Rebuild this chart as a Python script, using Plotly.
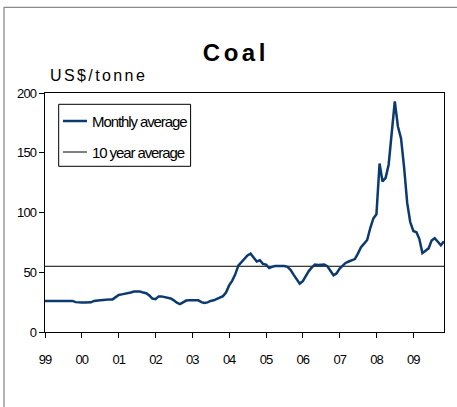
import plotly.graph_objects as go
import pandas as pd

# ---- data ----
start_month = "1999-01-01"
monthly_average = [
    26.0, 26.0, 26.0, 26.0, 26.0, 26.0, 26.0, 26.0, 26.0, 26.0, 25.0, 24.6,   # 1999
    24.6, 24.6, 24.6, 24.8, 26.0, 26.5, 26.5, 26.8, 27.3, 27.3, 27.3, 29.5,   # 2000
    31.0, 31.5, 31.8, 32.6, 33.0, 33.8, 34.0, 33.8, 33.0, 32.5, 30.5, 28.0,   # 2001
    27.5, 29.8, 29.8, 29.3, 28.8, 28.0, 26.5, 24.5, 23.3, 24.5, 26.3, 26.5,   # 2002
    26.5, 27.0, 26.5, 25.0, 24.3, 24.8, 26.0, 26.5, 27.5, 28.5, 30.0, 33.0,   # 2003
    39.0, 43.0, 48.0, 55.5, 58.5, 61.5, 64.0, 65.5, 62.5, 59.0, 60.0, 57.0,   # 2004
    56.4, 53.5, 54.5, 55.2, 55.2, 55.2, 55.2, 54.5, 52.0, 48.0, 44.5, 40.5,   # 2005
    42.5, 47.4, 51.0, 54.0, 56.5, 56.0, 56.0, 56.5, 55.0, 51.0, 47.5, 49.0,   # 2006
    53.0, 55.5, 57.8, 59.0, 60.0, 61.0, 65.6, 71.0, 74.0, 77.0, 87.0, 95.0,   # 2007
    98.5, 141.0, 126.0, 129.0, 140.0, 165.0, 193.0, 172.0, 162.0, 138.0, 108.0, 92.0,  # 2008
    84.5, 83.5, 78.0, 66.0, 68.0, 70.0, 76.5, 78.5, 75.5, 72.5, 76.0,         # 2009
]
ten_year_average = 55.0
months = pd.date_range(start_month, periods=len(monthly_average), freq="MS")
tick_years = pd.date_range("1999-01-01", "2009-01-01", freq="YS")
tick_labels = ["99", "00", "01", "02", "03", "04", "05", "06", "07", "08", "09"]
y_ticks = [0, 50, 100, 150, 200]

NAVY = "#0b3a6f"
SANS = "Liberation Sans, Arial, sans-serif"


def narrow(s, sp):
    return f'<span style="letter-spacing:{sp}px">{s}</span>'


fig = go.Figure()
fig.add_trace(go.Scatter(
    x=[months[0], months[-1]], y=[ten_year_average, ten_year_average],
    mode="lines", line=dict(color="black", width=1), name="10 year average",
    showlegend=False, hoverinfo="skip"))
fig.add_trace(go.Scatter(
    x=months, y=monthly_average, mode="lines",
    line=dict(color=NAVY, width=2.5), name="Monthly average", showlegend=False))

# custom legend (box, samples, labels) in paper coordinates
lx0, lx1, ly0, ly1 = 0.0343, 0.3649, 0.6933, 0.9527
fig.add_shape(type="rect", xref="paper", yref="paper", x0=lx0, x1=lx1, y0=ly0, y1=ly1,
              line=dict(color="black", width=1), fillcolor="white", layer="above")
legend_rows = [("Monthly average", NAVY, 2.5, 0.8828), ("10 year average", "black", 1, 0.7531)]
for label, col, w, yy in legend_rows:
    fig.add_shape(type="line", xref="paper", yref="paper", x0=0.0451, x1=0.1052, y0=yy, y1=yy,
                  line=dict(color=col, width=w), layer="above")
    fig.add_annotation(xref="paper", yref="paper", x=0.113, y=yy, text=narrow(label, -1.1),
                       showarrow=False, xanchor="left", yanchor="middle",
                       font=dict(family=SANS, size=15, color="black"))

# unit label
fig.add_annotation(xref="paper", yref="paper", x=0.008, y=1.074,
                   text=narrow("US$/tonne", 2.4),
                   showarrow=False, xanchor="left", yanchor="middle",
                   font=dict(family=SANS, size=16, color="black"))

# outer frame
fig.add_shape(type="path", xref="paper", yref="paper",
              path="M -0.1027,-0.4 L -0.1027,1.3586 L 1.06,1.3586",
              line=dict(color="#8a8a8a", width=1.3))

fig.update_layout(
    width=457, height=407,
    margin=dict(l=45, r=12.7, t=92.7, b=75.3),
    paper_bgcolor="white", plot_bgcolor="white",
    title=dict(text=narrow("<b>Coal</b>", 3.5), x=0.516, y=0.871, xref="container", yref="container",
               xanchor="center", yanchor="middle",
               font=dict(family=SANS, size=24, color="black")),
    showlegend=False,
    xaxis=dict(
        range=[months[0], months[-1]], tickmode="array", tickvals=list(tick_years),
        ticktext=[narrow(t, -1) for t in tick_labels], ticks="outside", ticklen=5,
        tickcolor="black", showline=True, linecolor="black", linewidth=1.3, mirror=True,
        showgrid=False, zeroline=False, ticklabelstandoff=10,
        tickfont=dict(family=SANS, size=13, color="black")),
    yaxis=dict(
        range=[0, 200], tickmode="array", tickvals=y_ticks,
        ticktext=[narrow(str(v), -0.8) for v in y_ticks], ticks="outside", ticklen=5,
        tickcolor="black", showline=True, linecolor="black", linewidth=1.3, mirror=True,
        showgrid=False, zeroline=False,
        tickfont=dict(family=SANS, size=13, color="black")),
)

fig.write_html("out.html", config={"displayModeBar": False},
               post_script="document.body.style.margin='0';")
